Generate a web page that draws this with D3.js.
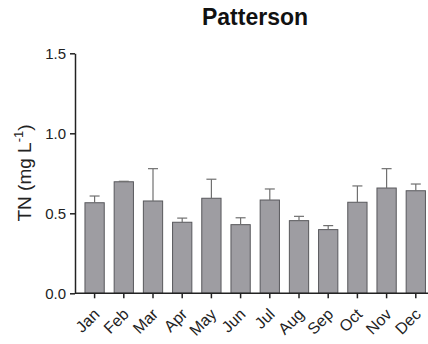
<!DOCTYPE html>
<html>
<head>
<meta charset="utf-8">
<script src="https://cdn.jsdelivr.net/npm/d3@7"></script>
<style>
  body { margin: 0; background: #fff; }
  svg { display: block; font-family: "Liberation Sans", Arial, sans-serif; }
</style>
</head>
<body>
<div id="chart"></div>
<script>
// monthly TN means and upper error (mean + SE)
const months = ["Jan", "Feb", "Mar", "Apr", "May", "Jun", "Jul", "Aug", "Sep", "Oct", "Nov", "Dec"];
const means = [0.566, 0.697, 0.577, 0.444, 0.594, 0.429, 0.583, 0.454, 0.398, 0.569, 0.658, 0.641];
const upper = [0.608, 0.700, 0.779, 0.470, 0.713, 0.472, 0.652, 0.481, 0.423, 0.671, 0.779, 0.683];
const yTicks = [0, 0.5, 1.0, 1.5];

const width = 428, height = 344;
const svg = d3.select("#chart").append("svg")
  .attr("width", width).attr("height", height);

const x = d3.scaleBand().domain(months).range([80, 430.4]).paddingInner(0.34).paddingOuter(0.17);
const y = d3.scaleLinear().domain([0, 1.5]).range([293.3, 53.3]);

// bars
svg.append("g").selectAll("rect")
  .data(months)
  .join("rect")
  .attr("x", d => x(d))
  .attr("y", (d, i) => y(means[i]))
  .attr("width", x.bandwidth())
  .attr("height", (d, i) => y(0) - y(means[i]))
  .attr("fill", "#9e9da2")
  .attr("stroke", "#58585c")
  .attr("stroke-width", 1);

// error bars
const err = svg.append("g").attr("stroke", "#707070").attr("stroke-width", 1.2);
months.forEach((m, i) => {
  const cx = x(m) + x.bandwidth() / 2;
  err.append("line").attr("x1", cx).attr("x2", cx).attr("y1", y(means[i])).attr("y2", y(upper[i]));
  err.append("line").attr("x1", cx - 5).attr("x2", cx + 5).attr("y1", y(upper[i])).attr("y2", y(upper[i]));
});

// y axis
const yAxis = svg.append("g")
  .attr("transform", "translate(75,0)")
  .call(d3.axisLeft(y).tickValues(yTicks).tickFormat(d3.format(".1f")).tickSize(5).tickSizeOuter(0));
yAxis.select(".domain").attr("stroke", "#222").attr("stroke-width", 1.5);
yAxis.selectAll(".tick line").attr("stroke", "#222").attr("stroke-width", 1.5);
yAxis.selectAll("text").attr("font-size", 15).attr("fill", "#222").attr("x", -9);

// x axis
const xAxis = svg.append("g")
  .attr("transform", "translate(0,293.3)")
  .call(d3.axisBottom(x).tickSize(5).tickSizeOuter(0));
xAxis.select(".domain").attr("d", "M75,0H428").attr("stroke", "#222").attr("stroke-width", 1.5);
xAxis.selectAll(".tick line").attr("stroke", "#222").attr("stroke-width", 1.5);
xAxis.selectAll("text")
  .attr("font-size", 16)
  .attr("fill", "#222")
  .attr("text-anchor", "end")
  .attr("x", 0).attr("y", 0).attr("dy", 0)
  .attr("transform", "translate(6,22) rotate(-45)");

// title
svg.append("text")
  .attr("x", 255).attr("y", 25)
  .attr("text-anchor", "middle")
  .attr("font-size", 23).attr("font-weight", "bold")
  .attr("fill", "#111")
  .text("Patterson");

// y label
const yl = svg.append("text")
  .attr("transform", "translate(31,173) rotate(-90)")
  .attr("text-anchor", "middle")
  .attr("font-size", 19).attr("fill", "#222");
yl.append("tspan").text("TN (mg L");
yl.append("tspan").attr("dy", -8).attr("font-size", 13).text("-1");
yl.append("tspan").attr("dy", 8).text(")");
</script>
</body>
</html>
